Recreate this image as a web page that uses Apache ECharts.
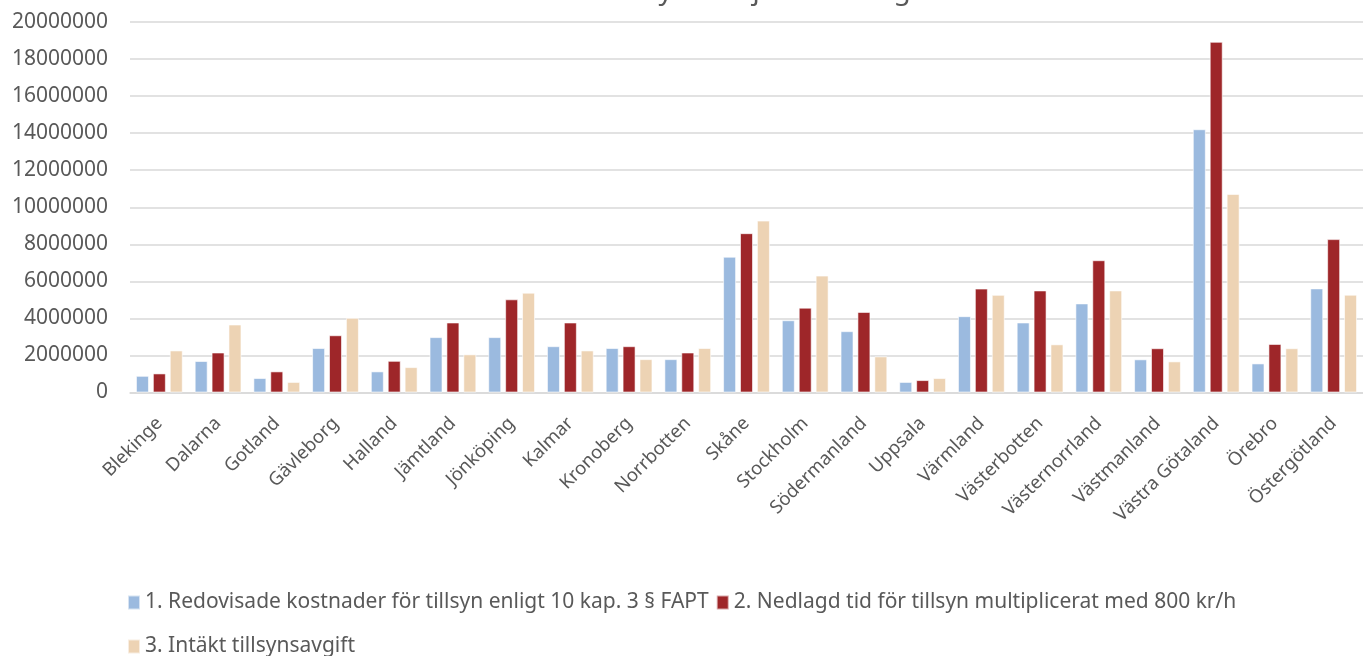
<!DOCTYPE html>
<html>
<head>
<meta charset="utf-8">
<script src="https://cdn.jsdelivr.net/npm/echarts@6/dist/echarts.min.js"></script>
<style>
html,body{margin:0;padding:0;background:#fff;}
#c{width:1363px;height:656px;}
</style>
</head>
<body>
<div id="c"></div>
<script>
const categories = ["Blekinge","Dalarna","Gotland","Gävleborg","Halland","Jämtland","Jönköping","Kalmar","Kronoberg","Norrbotten","Skåne","Stockholm","Södermanland","Uppsala","Värmland","Västerbotten","Västernorrland","Västmanland","Västra Götaland","Örebro","Östergötland"];
const seriesNames = ["1. Redovisade kostnader för tillsyn enligt 10 kap. 3 § FAPT","2. Nedlagd tid för tillsyn multiplicerat med 800 kr/h","3. Intäkt tillsynsavgift"];
const redovisade = [900000,1700000,780000,2400000,1140000,2990000,2990000,2500000,2400000,1800000,7330000,3900000,3310000,570000,4120000,3780000,4810000,1790000,14210000,1570000,5620000];
const nedlagd = [1030000,2160000,1140000,3090000,1710000,3780000,5030000,3780000,2500000,2160000,8600000,4580000,4350000,670000,5610000,5510000,7140000,2390000,18930000,2620000,8280000];
const intakt = [2270000,3670000,570000,4030000,1370000,2060000,5390000,2270000,1800000,2400000,9280000,6310000,1950000,780000,5270000,2600000,5510000,1680000,10720000,2390000,5280000];
const yTicks = {min:0, max:20000000, interval:2000000};
const titleText = "Kostnader för tillsyn och jämförd avgift";

const colors = ['#9BBADF','#9E2629','#EDD3B4'];
const txt = '#595959';
const font = 'Noto Sans';
const chart = echarts.init(document.getElementById('c'));
const mk = (name, data, color) => ({
  name, type:'bar', data,
  barWidth:13, barGap:'30%',
  itemStyle:{color, borderColor:'rgba(255,255,255,0.6)', borderWidth:1},
  emphasis:{disabled:true}
});
chart.setOption({
  animation:false,
  textStyle:{fontFamily:font},
  graphic:[{
    type:'text', left:'center', top:-23,
    style:{text:titleText, fontSize:28, fontFamily:font, fill:txt}
  }],
  grid:{left:130, right:0, top:22, bottom:263.5, containLabel:false},
  legend:[
    {data:[seriesNames[0],seriesNames[1]], left:122, top:587, icon:'rect', itemWidth:12, itemHeight:14, itemGap:7,
     textStyle:{color:txt, fontSize:21, fontFamily:font}},
    {data:[seriesNames[2]], left:122, top:631, icon:'rect', itemWidth:12, itemHeight:14,
     textStyle:{color:txt, fontSize:21, fontFamily:font}}
  ],
  xAxis:{
    type:'category', data:categories,
    axisLine:{lineStyle:{color:'#d9d9d9', width:1.5}},
    axisTick:{show:false},
    axisLabel:{rotate:45, interval:0, color:txt, fontSize:18.5, fontFamily:font, margin:28}
  },
  yAxis:{
    type:'value', min:yTicks.min, max:yTicks.max, interval:yTicks.interval,
    axisLine:{show:false}, axisTick:{show:false},
    splitLine:{lineStyle:{color:'#d9d9d9', width:1.5}},
    axisLabel:{color:txt, fontSize:21, fontFamily:font, margin:22, formatter:v=>String(v)}
  },
  series:[mk(seriesNames[0],redovisade,colors[0]), mk(seriesNames[1],nedlagd,colors[1]), mk(seriesNames[2],intakt,colors[2])]
});
</script>
</body>
</html>
